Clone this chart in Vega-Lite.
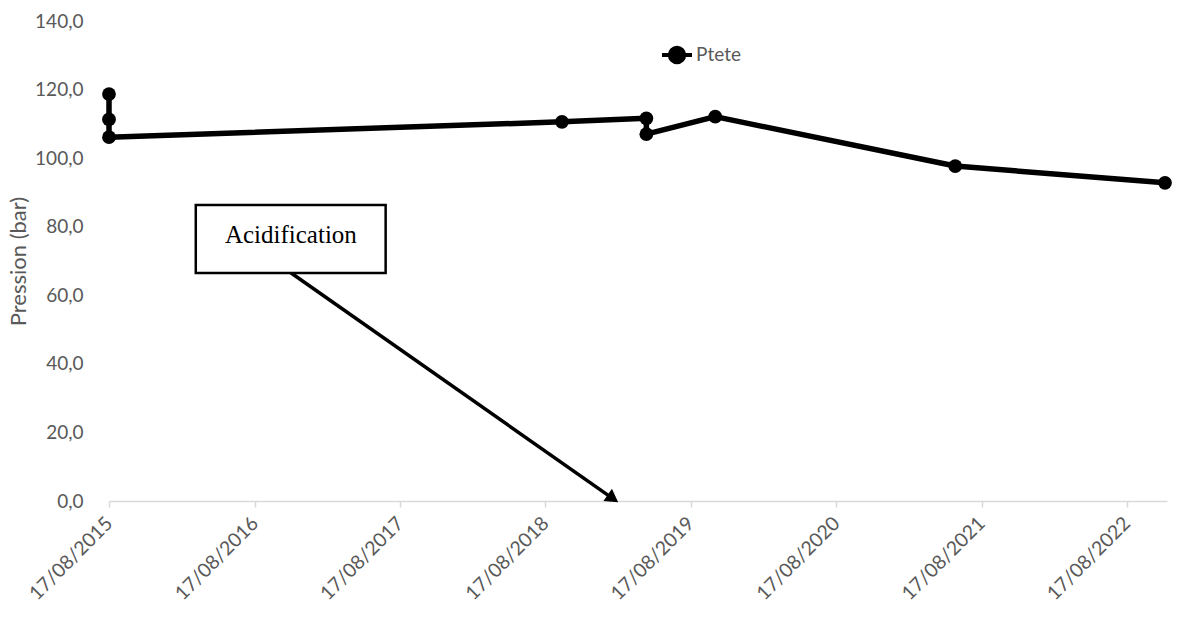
{
  "$schema": "https://vega.github.io/schema/vega-lite/v6.json",
  "width": 1058,
  "height": 480,
  "autosize": {"type": "none"},
  "padding": {"left": 109, "top": 21, "right": 33, "bottom": 135},
  "background": "white",
  "config": {
    "view": {"stroke": null},
    "font": "Lato",
    "axis": {"labelFont": "Lato", "titleFont": "Lato", "labelColor": "#595959", "titleColor": "#595959", "grid": false},
    "axisY": {"titleFontSize": 22, "titleFontWeight": "normal"}
  },
  "datasets": {
    "ptete": [
      {"idx": 1, "date": "2015-08-17", "pression": 118.7, "serie": "Ptete"},
      {"idx": 2, "date": "2015-08-17", "pression": 111.3, "serie": "Ptete"},
      {"idx": 3, "date": "2015-08-17", "pression": 106.1, "serie": "Ptete"},
      {"idx": 4, "date": "2018-09-28", "pression": 110.6, "serie": "Ptete"},
      {"idx": 5, "date": "2019-04-28", "pression": 111.6, "serie": "Ptete"},
      {"idx": 6, "date": "2019-04-28", "pression": 107.0, "serie": "Ptete"},
      {"idx": 7, "date": "2019-10-18", "pression": 112.1, "serie": "Ptete"},
      {"idx": 8, "date": "2021-06-12", "pression": 97.7, "serie": "Ptete"},
      {"idx": 9, "date": "2022-11-21", "pression": 92.8, "serie": "Ptete"}
    ],
    "annotation": [
      {"label": "Acidification", "box_start": "2016-03-22", "box_end": "2017-07-12", "box_top": 86.3, "box_bottom": 66.5,
       "text_date": "2016-11-16", "text_value": 77.6,
       "arrow_from": "2016-11-13", "arrow_from_value": 66.8, "arrow_to": "2019-02-03", "arrow_to_value": 0.7}
    ]
  },
  "layer": [
    {
      "data": {"name": "ptete"},
      "mark": {"type": "line", "strokeWidth": 5.5, "strokeJoin": "round"},
      "encoding": {
        "x": {"field": "date", "type": "temporal",
          "scale": {"type": "utc", "domain": [{"year": 2015, "month": 8, "date": 17, "utc": true}, {"year": 2022, "month": 11, "date": 26, "utc": true}]},
          "axis": {"title": null,
            "labelExpr": "utcFormat(datum.value, '%d/%m/%Y')",
            "values": [
              {"year": 2015, "month": 8, "date": 17, "utc": true},
              {"year": 2016, "month": 8, "date": 17, "utc": true},
              {"year": 2017, "month": 8, "date": 17, "utc": true},
              {"year": 2018, "month": 8, "date": 17, "utc": true},
              {"year": 2019, "month": 8, "date": 17, "utc": true},
              {"year": 2020, "month": 8, "date": 17, "utc": true},
              {"year": 2021, "month": 8, "date": 17, "utc": true},
              {"year": 2022, "month": 8, "date": 17, "utc": true}
            ],
            "labelAngle": -45, "labelAlign": "right", "labelBaseline": "middle", "labelFontSize": 19.5, "labelPadding": 13,
            "domainColor": "#d9d9d9", "domainWidth": 1.5, "tickColor": "#d9d9d9", "tickSize": 6, "tickWidth": 1.5, "labelOverlap": false}},
        "y": {"field": "pression", "type": "quantitative",
          "scale": {"domain": [0, 140], "nice": false, "zero": true},
          "axis": {"title": "Pression (bar)", "values": [0, 20, 40, 60, 80, 100, 120, 140],
            "labelExpr": "replace(format(datum.value, '.1f'), '.', ',')",
            "domain": false, "ticks": false, "labelFontSize": 19, "labelPadding": 26,
            "titleFontSize": 22, "titleFontWeight": "normal", "titlePadding": 4}},
        "order": {"field": "idx", "type": "quantitative"},
        "color": {"field": "serie", "type": "nominal", "scale": {"range": ["black"]},
          "legend": {"title": null, "orient": "none", "legendX": 551, "legendY": 17, "direction": "horizontal",
            "symbolType": "M-1,0L1,0M0.48,0A0.48,0.48,0,1,1,-0.48,0A0.48,0.48,0,1,1,0.48,0Z",
            "symbolSize": 900, "symbolStrokeWidth": 4, "symbolFillColor": "black", "symbolStrokeColor": "black",
            "labelFontSize": 19, "labelColor": "#595959", "labelOffset": 2, "padding": 0}}
      }
    },
    {
      "data": {"name": "ptete"},
      "mark": {"type": "point", "filled": true, "size": 190, "opacity": 1},
      "encoding": {
        "x": {"field": "date", "type": "temporal"},
        "y": {"field": "pression", "type": "quantitative"},
        "color": {"field": "serie", "type": "nominal"}
      }
    },
    {
      "data": {"name": "annotation"},
      "mark": {"type": "rule", "strokeWidth": 3.5, "color": "black", "clip": false},
      "encoding": {
        "x": {"field": "arrow_from", "type": "temporal"},
        "x2": {"field": "arrow_to"},
        "y": {"field": "arrow_from_value", "type": "quantitative"},
        "y2": {"field": "arrow_to_value"}
      }
    },
    {
      "data": {"name": "annotation"},
      "mark": {"type": "point", "shape": "triangle-up", "filled": true, "size": 220, "angle": 125, "color": "black", "opacity": 1},
      "encoding": {
        "x": {"field": "arrow_to", "type": "temporal"},
        "y": {"field": "arrow_to_value", "type": "quantitative"}
      }
    },
    {
      "data": {"name": "annotation"},
      "mark": {"type": "rect", "fill": "white", "stroke": "black", "strokeWidth": 2.5},
      "encoding": {
        "x": {"field": "box_start", "type": "temporal"},
        "x2": {"field": "box_end"},
        "y": {"field": "box_top", "type": "quantitative"},
        "y2": {"field": "box_bottom"}
      }
    },
    {
      "data": {"name": "annotation"},
      "mark": {"type": "text", "font": "Liberation Serif", "fontSize": 25, "color": "black", "align": "center", "baseline": "middle"},
      "encoding": {
        "x": {"field": "text_date", "type": "temporal"},
        "y": {"field": "text_value", "type": "quantitative"},
        "text": {"field": "label"}
      }
    }
  ]
}
